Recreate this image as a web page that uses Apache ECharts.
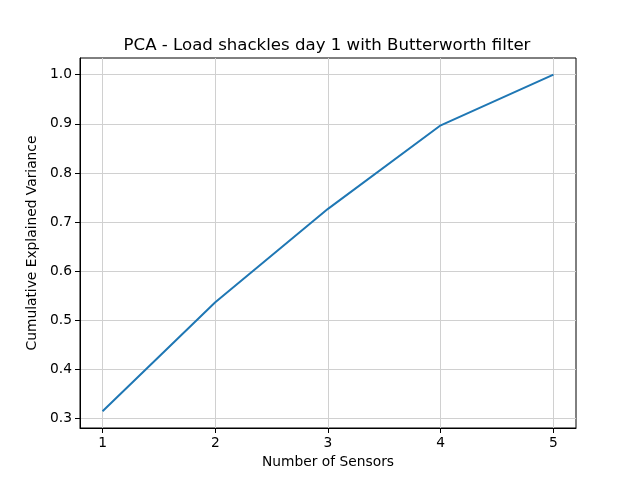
<!DOCTYPE html>
<html>
<head>
<meta charset="utf-8">
<script src="https://cdn.jsdelivr.net/npm/echarts@6/dist/echarts.min.js"></script>
<style>
  html, body { margin: 0; padding: 0; background: #fff; }
  #chart { width: 640px; height: 480px; }
</style>
</head>
<body>
<div id="chart"></div>
<script>
// data
var sensors = [1, 2, 3, 4, 5];
var cumVariance = [0.315, 0.537, 0.727, 0.897, 1.0];
var xTicks = [1, 2, 3, 4, 5];
var yTicks = [0.3, 0.4, 0.5, 0.6, 0.7, 0.8, 0.9, 1.0];

var myChart = echarts.init(document.getElementById('chart'));
var font = 'DejaVu Sans';

var points = [];
for (var i = 0; i < sensors.length; i++) {
    points.push([sensors[i], cumVariance[i]]);
}

myChart.setOption({
    animation: false,
    title: {
        text: 'PCA - Load shackles day 1 with Butterworth filter',
        left: 322,
        top: 32,
        textAlign: 'center',
        textStyle: { fontFamily: font, fontSize: 16.6, fontWeight: 'normal', color: '#000' }
    },
    grid: {
        left: 80, right: 64, top: 58, bottom: 52,
        show: true, borderColor: '#000', borderWidth: 1
    },
    xAxis: {
        type: 'value',
        min: 0.8,
        max: 5.2,
        name: 'Number of Sensors',
        nameLocation: 'middle',
        nameGap: 27,
        nameTextStyle: { fontFamily: font, fontSize: 13.8, color: '#000' },
        axisLine: { show: true, lineStyle: { color: '#000' } },
        axisTick: { show: true, inside: false, length: 5, customValues: xTicks, lineStyle: { color: '#000' } },
        axisLabel: { customValues: xTicks, fontFamily: font, fontSize: 13.8, color: '#000', margin: 8 },
        splitLine: { show: true, lineStyle: { color: '#d0d0d0', width: 1 } }
    },
    yAxis: {
        type: 'value',
        min: 0.281,
        max: 1.034,
        name: 'Cumulative Explained Variance',
        nameLocation: 'middle',
        nameGap: 37,
        nameTextStyle: { fontFamily: font, fontSize: 13.8, color: '#000' },
        axisLine: { show: true, lineStyle: { color: '#000' } },
        axisTick: { show: true, inside: false, length: 5, customValues: yTicks, lineStyle: { color: '#000' } },
        axisLabel: {
            customValues: yTicks, fontFamily: font, fontSize: 13.8, color: '#000', margin: 8,
            formatter: function (v) { return v.toFixed(1); }
        },
        splitLine: { show: true, lineStyle: { color: '#d0d0d0', width: 1 } }
    },
    series: [
        {
            type: 'line',
            data: points,
            showSymbol: false,
            lineStyle: { color: '#1f77b4', width: 2 },
            itemStyle: { color: '#1f77b4' }
        }
    ]
});
</script>
</body>
</html>
